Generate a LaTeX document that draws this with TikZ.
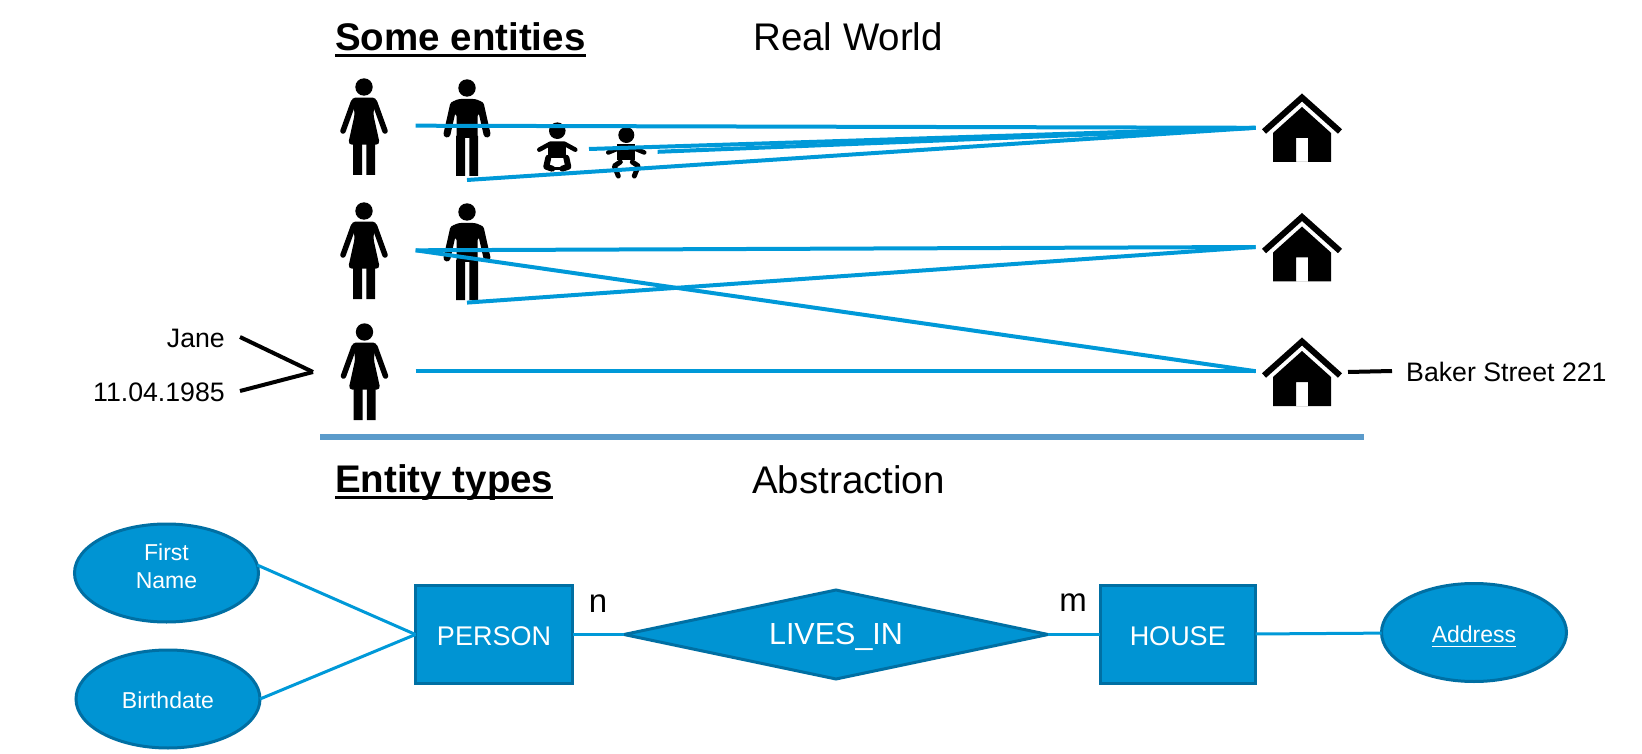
\documentclass[tikz,border=0pt]{standalone}
\usepackage{fontspec}
\setmainfont{Liberation Sans}
\usepackage{tikz}
\usetikzlibrary{positioning,shapes.geometric}
\definecolor{nLink}{HTML}{0099D8}
\definecolor{nFill}{HTML}{0094D3}
\definecolor{nEdge}{HTML}{006FA3}
\definecolor{nRule}{HTML}{5B9BCB}
\newcommand{\headline}[1]{\setbox0=\hbox{#1}\rlap{\smash{\lower6pt\hbox{\vrule width\wd0 height 3pt depth 0pt}}}\box0}
\newcommand{\keyline}[1]{\setbox0=\hbox{#1}\rlap{\smash{\lower4pt\hbox{\vrule width\wd0 height 1.2pt depth 0pt}}}\box0}

\begin{document}
\begin{tikzpicture}[
  x=1pt, y=-1pt,
  ent/.style={rectangle,draw=nEdge,fill=nFill,line width=3pt,outer sep=0pt,text=white,text height=23pt,minimum width=155.5pt,minimum height=98pt,font=\fontsize{27}{30}\selectfont},
  attr/.style={ellipse,draw=nEdge,fill=nFill,line width=3pt,outer sep=0pt,inner sep=0pt,text=white,minimum width=184pt,minimum height=98pt,font=\fontsize{23}{28}\selectfont},
  rel/.style={diamond,draw=nEdge,fill=nFill,line width=3pt,outer sep=0pt,inner sep=0pt,aspect=4.66,text=white,text height=26pt,minimum width=424pt,minimum height=89pt,font=\fontsize{30.5}{34}\selectfont},
  title/.style={anchor=west,inner sep=0pt,font=\fontsize{38.5}{42}\selectfont},
  small/.style={inner sep=0pt,font=\fontsize{26.7}{30}\selectfont},
  card/.style={inner sep=0pt,font=\fontsize{33}{36}\selectfont},
  link/.style={draw=nLink,line width=4pt},
  wire/.style={draw=nLink,line width=3pt},
  tick/.style={draw=black,line width=4pt},
  womanicon/.pic={
    \fill (0,0) circle (8.7);
    \fill[rounded corners=4pt] (-13,10.7) -- (13,10.7) -- (9,26) -- (16,57.7) -- (-16,57.7) -- (-9,26) -- cycle;
    \fill (-11,57) rectangle (-2,88) (2.3,57) rectangle (11,88);
    \draw[line width=5.5pt,line cap=round] (-10.5,15) -- (-21,44) (10.5,15) -- (21,44);
  },
  manicon/.pic={
    \fill (0,0) circle (8.7);
    \fill[rounded corners=5pt] (-17,16) -- (-11,11) -- (11,11) -- (17,16) -- (10.5,30) -- (-10.5,30) -- cycle;
    \fill (-10.5,25) rectangle (10.5,50) (-11,48) rectangle (-2,88) (2.3,48) rectangle (11,88);
    \draw[line width=7pt,line cap=round] (-13.5,17) -- (-20,46) (13.5,17) -- (20,46);
  },
  babysit/.pic={
    \fill (0,0) circle (8.3);
    \fill (-9,11) rectangle (9,27);
    \draw[line width=4.5pt,line cap=round,line join=round] (-18,19) -- (-7,13) -- (7,13) -- (18,19);
    \draw[line width=6pt,line cap=round,line join=round] (-9,27) -- (-11,36) -- (-5,38) (9,27) -- (11,36) -- (5,38);
    \draw[line width=3pt] (-5,38) -- (5,38);
  },
  babycrawl/.pic={
    \fill (0,0) circle (8);
    \fill (-9,9.5) rectangle (9,25);
    \draw[line width=4.5pt,line cap=round,line join=round] (-18,17.5) -- (-7,13) -- (7,13) -- (18,17.5);
    \draw[line width=5pt,line cap=round,line join=round] (-6,27) -- (-12,31) -- (-8,41) (6,27) -- (12,31) -- (8,41);
  },
  houseicon/.pic={
    \draw[line width=6pt] (-38,38.5) -- (0,4.5) -- (38,38.5);
    \fill[even odd rule] (0,14) -- (29,40) -- (29,69) -- (-29,69) -- (-29,40) -- cycle (-6,45) rectangle (6,69);
  }]

  % real world
  \node[title,font=\fontsize{38.5}{42}\selectfont\bfseries] (some) at (335,37) {\headline{Some entities}};
  \node[title] (real) at (753,37) {Real World};

  \pic at (364,87) {womanicon};
  \pic at (467,88) {manicon};
  \pic at (557.3,130.7) {babysit};
  \pic at (626.3,135) {babycrawl};
  \pic at (1302,93) {houseicon};

  \pic at (364,211) {womanicon};
  \pic at (467,212) {manicon};
  \pic at (1302,212.5) {houseicon};

  \pic at (364.5,332) {womanicon};
  \pic at (1302,337) {houseicon};

  \coordinate (womanA) at (415.7,125.7);
  \coordinate (manA) at (467,180);
  \coordinate (babyA) at (589,149);
  \coordinate (babyB) at (657.6,151.8);
  \coordinate (houseA) at (1255.6,127.8);
  \coordinate (womanB) at (415.7,250.3);
  \coordinate (manB) at (467,302.6);
  \coordinate (houseB) at (1255.6,247);
  \coordinate (womanC) at (415.7,371.2);
  \coordinate (houseC) at (1255.6,371.2);

  \draw[link] (womanA) -- (houseA);
  \draw[link] (manA) -- (houseA);
  \draw[link] (babyA) -- (houseA);
  \draw[link] (babyB) -- (houseA);
  \draw[link] (womanB) -- (houseB);
  \draw[link] (manB) -- (houseB);
  \draw[link] (womanB) -- (houseC);
  \draw[link] (womanC) -- (houseC);

  \node[small,anchor=east] (jane) at (225,338) {Jane};
  \node[small,anchor=east] (birth) at (225,392) {11.04.1985};
  \coordinate (janeA) at (240,337);
  \coordinate (birthA) at (240,391);
  \coordinate (womanD) at (313,372);
  \draw[tick] (janeA) -- (womanD);
  \draw[tick] (birthA) -- (womanD);

  \node[small,anchor=west] (baker) at (1406,372) {Baker Street 221};
  \coordinate (bakerA) at (1348,372);
  \coordinate (bakerB) at (1392,371);
  \draw[tick] (bakerA) -- (bakerB);

  \coordinate (ruleA) at (320,437);
  \coordinate (ruleB) at (1364,437);
  \draw[draw=nRule,line width=5.5pt] (ruleA) -- (ruleB);

  % abstraction
  \node[title,font=\fontsize{38.5}{42}\selectfont\bfseries] (types) at (335,483) {\headline{Entity types}};
  \node[title] (abstr) at (752,480) {Abstraction};

  \node[ent,minimum width=157pt] (person) at (494,634.5) {PERSON};
  \node[rel,right=51.5pt of person] (lives) {LIVES\_IN};
  \node[ent,right=52pt of lives] (house) {HOUSE};
  \node[attr,minimum width=185pt,text height=21pt] (addr) at (1474,632.5) {\keyline{Address}};
  \node[attr,align=center] (first) at (166.5,573) {First\\Name\\[-14pt]~};
  \node[attr,text height=19pt] (bdate) at (168,699) {Birthdate};
  \node[card] (n) at (598,604) {n};
  \node[card] (m) at (1073,603) {m};

  \draw[wire] (first.5) -- (person.west);
  \draw[wire] (bdate.east) -- (person.west);
  \draw[wire] (person) -- (lives);
  \draw[wire] (lives) -- (house);
  \draw[wire] (house) -- (addr);

  \path[use as bounding box] (0,0) rectangle (1642,754);
\end{tikzpicture}
\end{document}
